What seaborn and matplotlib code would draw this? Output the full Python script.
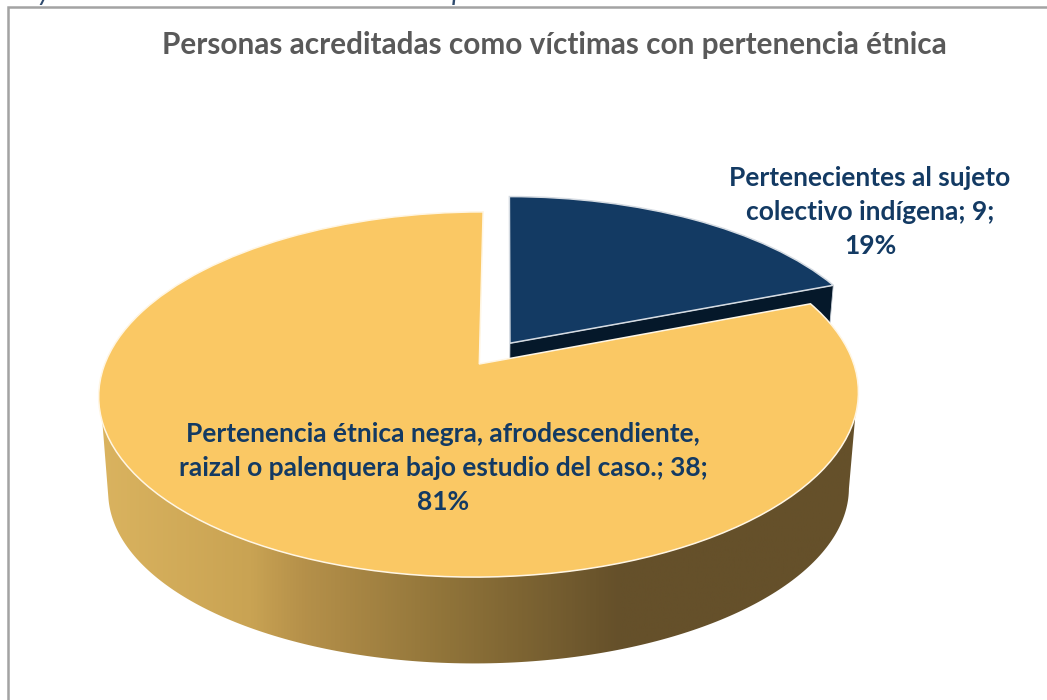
import numpy as np
import matplotlib
matplotlib.use("Agg")
import matplotlib.pyplot as plt
import seaborn as sns
from matplotlib.colors import LinearSegmentedColormap
from matplotlib.patches import Polygon
from matplotlib.transforms import Transform

# ---- data ----
title = "Personas acreditadas como víctimas con pertenencia étnica"
categories = ["Pertenecientes al sujeto\ncolectivo indígena",
              "Pertenencia étnica negra, afrodescendiente,\nraizal o palenquera bajo estudio del caso."]
values = [9, 38]
colors = ["#133a63", "#fac864"]

# ---- style ----
sns.set_theme(style="white")
plt.rcParams["font.family"] = ["Lato", "DejaVu Sans"]
palette = sns.color_palette(colors)
NAVY = "#133a63"


class Perspective(Transform):
    """Unit disc -> pixel coordinates, tilted away from the viewer."""
    input_dims = output_dims = 2
    is_affine = False
    has_inverse = False

    def __init__(self, x0=479.3, y0=364.0, a=374.5, b=177.5, k=0.167, skew=0.025,
                 sx=1.0, sy=1.0, depth=0.0):
        super().__init__()
        self.p = (x0, y0, a, b, k, skew, sx, sy, depth)

    def transform_non_affine(self, xy):
        x0, y0, a, b, k, skew, sx, sy, depth = self.p
        xy = np.asarray(xy, float)
        w = 1 + k * xy[:, 1]
        X = a * xy[:, 0] / w
        Y = b * xy[:, 1] / w
        return np.column_stack([x0 + sx * (X + skew * Y), y0 - sy * Y + depth])


top = Perspective()
bottom = Perspective(sx=0.975, sy=0.95, depth=97.0)


def arc(y_start, y_end, n=200):
    """Front arc of the rim, from the left to the right side (y = disc height)."""
    t0 = np.pi + np.arcsin(-y_start)
    t1 = 2 * np.pi + np.arcsin(y_end)
    t = np.linspace(t0, t1, n)
    return np.column_stack([np.cos(t), np.sin(t)])


fig = plt.figure(figsize=(10.47, 7.0), dpi=100, facecolor="white")
ax = fig.add_axes([0, 0, 1, 1])

total = sum(values)
wedges, _ = ax.pie(values, colors=palette, startangle=90, counterclock=False,
                   explode=[0.145, 0], radius=1,
                   wedgeprops=dict(linewidth=1.1))
ax.set_aspect("auto")
ax.set_xlim(0, 1047)
ax.set_ylim(700, 0)
ax.axis("off")

for w, edge in zip(wedges, ["#d5dbe2", "#fff6e4"]):
    w.set_transform(top + ax.transData)
    w.set_edgecolor(edge)
    w.set_zorder(4 if w is wedges[1] else 2)

# dark cut face of the pulled-out slice
blue = wedges[0]
cx, cy = blue.center
end = np.deg2rad(blue.theta1)
face = np.array([[cx, cy], [cx + np.cos(end), cy + np.sin(end)]])
f_top = top.transform_non_affine(face)
f_bot = bottom.transform_non_affine(face)
ax.add_patch(Polygon(np.vstack([f_top, f_bot[::-1]]), closed=True,
                     facecolor="#05182a", edgecolor="#c9d0d8", linewidth=0.6, zorder=1))

# shaded rim of the large slice
rim_top = top.transform_non_affine(arc(-0.31, -0.277))
rim_bot = bottom.transform_non_affine(arc(-0.22, -0.16))
rim = Polygon(np.vstack([rim_top, rim_bot[::-1]]), closed=True, transform=ax.transData,
              facecolor="none", edgecolor="none")
ax.add_patch(rim)
x_stops = np.array([100, 250, 300, 450, 620, 860])
c_stops = ["#dab35f", "#c9a353", "#b6914a", "#8f7339", "#65502a", "#65502a"]
cmap = LinearSegmentedColormap.from_list(
    "rim", list(zip((x_stops - x_stops[0]) / (x_stops[-1] - x_stops[0]), c_stops)))
img = ax.imshow(np.linspace(0, 1, 512)[None, :], cmap=cmap, aspect="auto",
                extent=(100, 860, 700, 380), zorder=3)
img.set_clip_path(rim)
ax.set_xlim(0, 1047)
ax.set_ylim(700, 0)

# chart frame (runs off the picture to the right and bottom)
ax.plot([8, 8, 1047], [700, 7, 7], color="#a3a3a3", lw=1.8, zorder=5,
        solid_joinstyle="miter")

# fragments of the text above the chart, cut off by the picture edge
for ch, x in [("y", 38), ("p", 452)]:
    ax.text(x, 0, ch, fontsize=20, style="italic", color="#2f4b6e",
            ha="left", va="baseline")

# texts
ax.text(554.5, 45, title, fontsize=21.4, fontweight="bold", color="#595959",
        ha="center", va="center")

label_pos = [(870, 212), (443, 468)]
for name, v, (x, y) in zip(categories, values, label_pos):
    ax.text(x, y, f"{name}; {v};\n{v / total * 100:.0f}%", fontsize=19, fontweight="bold",
            color=NAVY, ha="center", va="center", linespacing=1.48, zorder=6)

fig.savefig("out.png", dpi=100, facecolor="white")
